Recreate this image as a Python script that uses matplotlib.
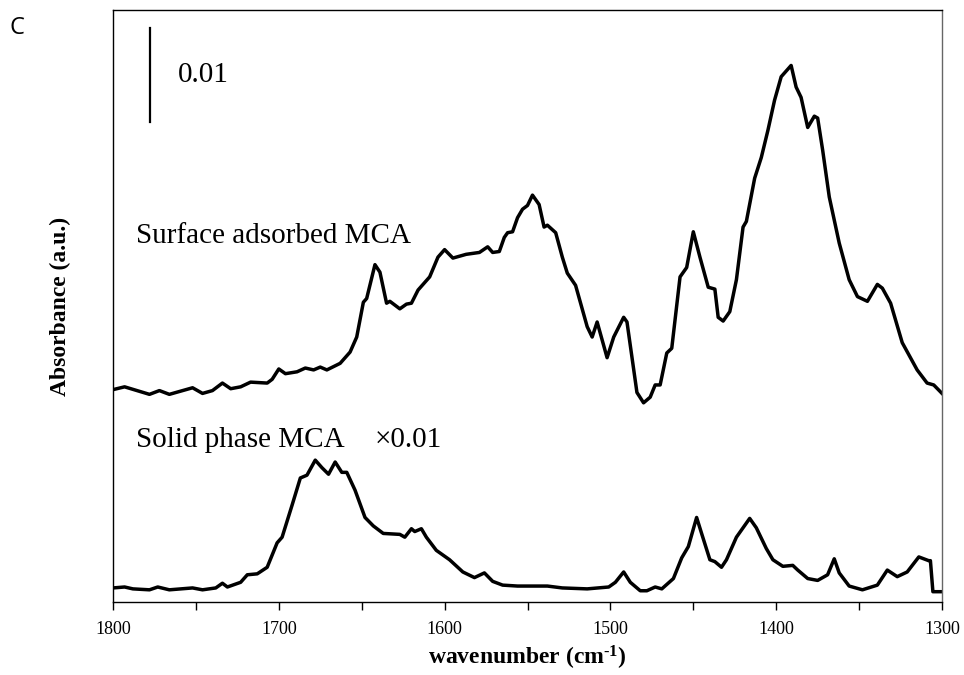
import numpy as np
import matplotlib
matplotlib.use("Agg")
from matplotlib import pyplot as plt, ticker as mtick

# Surface adsorbed MCA spectrum (wavenumber in cm-1, absorbance)
surface_wn = [1800, 1793, 1778, 1772, 1766, 1752, 1746, 1740, 1734, 1729, 1723, 1717, 1707, 1704,
              1700, 1696, 1689, 1684, 1679, 1675, 1671, 1663, 1657, 1653, 1649, 1647, 1642, 1639,
              1635, 1633, 1627, 1623, 1620, 1616, 1609, 1604, 1600, 1595, 1587, 1579, 1574, 1571,
              1567, 1564, 1562, 1559, 1556, 1553, 1550, 1547, 1543, 1540, 1538, 1533, 1529, 1526,
              1521, 1514, 1511, 1508, 1502, 1498, 1492, 1490, 1484, 1480, 1476, 1473, 1470, 1466,
              1463, 1458, 1454, 1450, 1446, 1441, 1437, 1435, 1432, 1428, 1424, 1420, 1418, 1413,
              1409, 1405, 1401, 1397, 1395, 1391, 1388, 1385, 1381, 1377, 1375, 1372, 1368, 1362,
              1356, 1351, 1345, 1339, 1336, 1331, 1324, 1315, 1309, 1305, 1300]
surface_abs = [0.0226, 0.0229, 0.0221, 0.0225, 0.0221, 0.0228, 0.0222, 0.0225, 0.0233, 0.0227,
               0.0229, 0.0234, 0.0233, 0.0237, 0.0248, 0.0243, 0.0245, 0.0249, 0.0247, 0.0250,
               0.0247, 0.0254, 0.0266, 0.0282, 0.0319, 0.0323, 0.0359, 0.0351, 0.0318, 0.0320,
               0.0312, 0.0317, 0.0318, 0.0332, 0.0346, 0.0367, 0.0375, 0.0366, 0.0370, 0.0372,
               0.0378, 0.0372, 0.0373, 0.0388, 0.0393, 0.0394, 0.0409, 0.0418, 0.0422, 0.0433,
               0.0423, 0.0399, 0.0401, 0.0393, 0.0367, 0.0350, 0.0337, 0.0293, 0.0282, 0.0298,
               0.0260, 0.0282, 0.0303, 0.0298, 0.0223, 0.0212, 0.0218, 0.0231, 0.0231, 0.0265,
               0.0270, 0.0346, 0.0356, 0.0394, 0.0367, 0.0335, 0.0333, 0.0303, 0.0299, 0.0309,
               0.0343, 0.0399, 0.0405, 0.0451, 0.0473, 0.0502, 0.0534, 0.0559, 0.0563, 0.0571,
               0.0548, 0.0537, 0.0505, 0.0517, 0.0515, 0.0481, 0.0431, 0.0382, 0.0343, 0.0325,
               0.0320, 0.0338, 0.0334, 0.0318, 0.0276, 0.0247, 0.0233, 0.0231, 0.0222]

# Solid phase MCA spectrum (scaled x0.01)
solid_wn = [1800, 1793, 1788, 1778, 1773, 1766, 1752, 1746, 1738, 1734, 1731, 1723, 1719, 1713,
            1707, 1701, 1698, 1692, 1687, 1683, 1678, 1674, 1670, 1666, 1662, 1659, 1654, 1648,
            1643, 1637, 1627, 1624, 1620, 1618, 1614, 1611, 1605, 1597, 1589, 1582, 1576, 1571,
            1565, 1556, 1538, 1529, 1514, 1501, 1497, 1492, 1488, 1482, 1478, 1473, 1469, 1462,
            1457, 1453, 1448, 1445, 1440, 1437, 1433, 1430, 1424, 1416, 1412, 1406, 1402, 1396,
            1390, 1387, 1381, 1375, 1369, 1365, 1362, 1356, 1348, 1339, 1333, 1327, 1321, 1314,
            1308, 1307, 1305.5, 1300]
solid_abs = [0.0015, 0.0016, 0.0014, 0.0013, 0.0016, 0.0013, 0.0015, 0.0013, 0.0015, 0.0020,
             0.0016, 0.0021, 0.0029, 0.0030, 0.0037, 0.0063, 0.0069, 0.0103, 0.0132, 0.0135,
             0.0151, 0.0143, 0.0136, 0.0149, 0.0138, 0.0138, 0.0119, 0.0090, 0.0081, 0.0073,
             0.0072, 0.0069, 0.0078, 0.0075, 0.0078, 0.0069, 0.0055, 0.0045, 0.0032, 0.0026,
             0.0031, 0.0022, 0.0018, 0.0017, 0.0017, 0.0015, 0.0014, 0.0016, 0.0021, 0.0032,
             0.0021, 0.0012, 0.0012, 0.0016, 0.0014, 0.0025, 0.0047, 0.0059, 0.0090, 0.0073,
             0.0045, 0.0043, 0.0037, 0.0045, 0.0069, 0.0089, 0.0079, 0.0057, 0.0045, 0.0038,
             0.0039, 0.0034, 0.0025, 0.0023, 0.0029, 0.0046, 0.0031, 0.0017, 0.0013, 0.0018,
             0.0034, 0.0027, 0.0032, 0.0048, 0.0044, 0.0044, 0.0011, 0.0011]

plt.rcParams["font.family"] = ["Liberation Serif", "DejaVu Serif"]
plt.rcParams["mathtext.default"] = "regular"

fig = plt.figure(figsize=(9.64, 6.75), dpi=100)
ax = fig.add_axes([0.1172, 0.1081, 0.86, 0.8771])

ax.plot(surface_wn, surface_abs, color="black", lw=2.5, solid_joinstyle="round")
ax.plot(solid_wn, solid_abs, color="black", lw=2.5, solid_joinstyle="round")

# Scale bar for 0.01 absorbance
ax.plot([1777.7, 1777.7], [0.0511, 0.0611], color="black", lw=1.6)
ax.text(1761, 0.0561, "0.01", fontsize=21, va="center", ha="left")

ax.text(1786, 0.0390, "Surface adsorbed MCA", fontsize=21, va="center", ha="left")
ax.text(1786, 0.0172, "Solid phase MCA", fontsize=21, va="center", ha="left")
ax.text(1642, 0.0172, "\u00d70.01", fontsize=21, va="center", ha="left")

ax.set_xlim(1800, 1300)
ax.set_ylim(0, 0.063)
ax.xaxis.set_major_locator(mtick.MultipleLocator(100))
ax.xaxis.set_minor_locator(mtick.MultipleLocator(50))
ax.tick_params(axis="x", which="both", direction="out", length=6, width=1, labelsize=13, pad=8)
ax.tick_params(axis="y", left=False, labelleft=False)
for s in ax.spines.values():
    s.set_linewidth(1)
ax.spines["right"].set_color("#666666")

ax.set_xlabel("wavenumber (cm$^{\u2010 1}$)", fontsize=17, fontweight="bold", labelpad=4)
ax.set_ylabel("Absorbance (a.u.)", fontsize=17, fontweight="bold", labelpad=30)

fig.text(0.010, 0.958, "C", fontsize=17, family="Open Sans", va="center", ha="left")

fig.savefig("out.png", dpi=100)
